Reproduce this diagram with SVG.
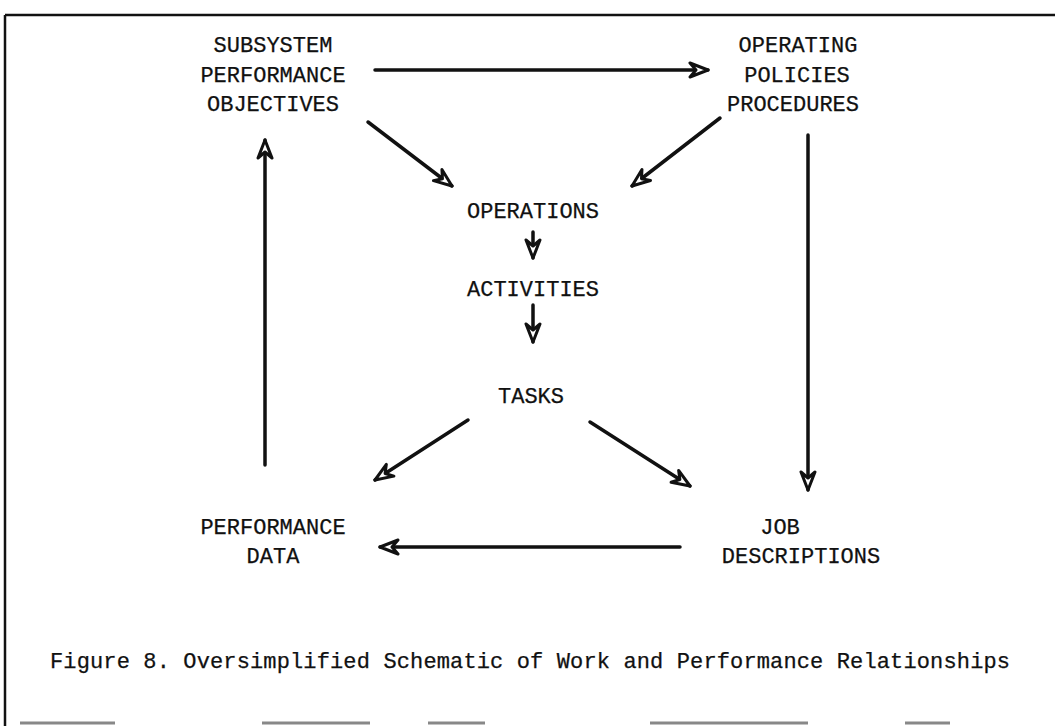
<svg xmlns="http://www.w3.org/2000/svg" width="1055" height="726" viewBox="0 0 1055 726">
<defs>
<style>
.t{font-family:"Liberation Mono","DejaVu Sans Mono",monospace;font-size:22px;fill:#111;stroke:#111;stroke-width:0.25;text-anchor:middle}
.c{stroke:#111;stroke-width:3.5;fill:none;stroke-linecap:round}
.b{stroke:#111;stroke-width:2.5;fill:none}
.d{stroke:#888;stroke-width:3}
</style>
<marker id="ah" viewBox="0 0 22 18" refX="20" refY="9" markerWidth="22" markerHeight="18" markerUnits="userSpaceOnUse" orient="auto">
<path d="M2,2 L20,9 L2,16 L8,9 Z" fill="#fff" stroke="#111" stroke-width="3" stroke-linejoin="round"/>
</marker>
</defs>
<rect width="1055" height="726" fill="#fff"/>
<g id="frame">
<path class="b" d="M5,15 H1055 M5,15 V726"/>
<path class="d" d="M20,723 H115 M262,723 H370 M428,723 H485 M650,723 H808 M905,723 H950"/>
</g>
<g id="connectors">
<line class="c" x1="375" y1="70" x2="708" y2="70" marker-end="url(#ah)"/>
<line class="c" x1="368" y1="122" x2="452" y2="186" marker-end="url(#ah)"/>
<line class="c" x1="720" y1="118" x2="632" y2="186" marker-end="url(#ah)"/>
<line class="c" x1="533" y1="232" x2="533" y2="258" marker-end="url(#ah)"/>
<line class="c" x1="533" y1="305" x2="533" y2="342" marker-end="url(#ah)"/>
<line class="c" x1="468" y1="420" x2="375" y2="480" marker-end="url(#ah)"/>
<line class="c" x1="590" y1="422" x2="690" y2="486" marker-end="url(#ah)"/>
<line class="c" x1="808" y1="135" x2="808" y2="490" marker-end="url(#ah)"/>
<line class="c" x1="680" y1="547" x2="380" y2="547" marker-end="url(#ah)"/>
<line class="c" x1="265" y1="465" x2="265" y2="140" marker-end="url(#ah)"/>
</g>
<g id="subsystem">
<text class="t" x="273" y="52">SUBSYSTEM</text>
<text class="t" x="273" y="82">PERFORMANCE</text>
<text class="t" x="273" y="111">OBJECTIVES</text>
</g>
<g id="policies">
<text class="t" x="798" y="52">OPERATING</text>
<text class="t" x="797" y="82">POLICIES</text>
<text class="t" x="793" y="111">PROCEDURES</text>
</g>
<g id="operations"><text class="t" x="533" y="218">OPERATIONS</text></g>
<g id="activities"><text class="t" x="533" y="296">ACTIVITIES</text></g>
<g id="tasks"><text class="t" x="531" y="403">TASKS</text></g>
<g id="perfdata">
<text class="t" x="273" y="534">PERFORMANCE</text>
<text class="t" x="273" y="563">DATA</text>
</g>
<g id="jobdesc">
<text class="t" x="780" y="534">JOB</text>
<text class="t" x="801" y="563">DESCRIPTIONS</text>
</g>
<g id="caption"><text class="t" x="530" y="668" textLength="960" lengthAdjust="spacing">Figure 8. Oversimplified Schematic of Work and Performance Relationships</text></g>
</svg>
